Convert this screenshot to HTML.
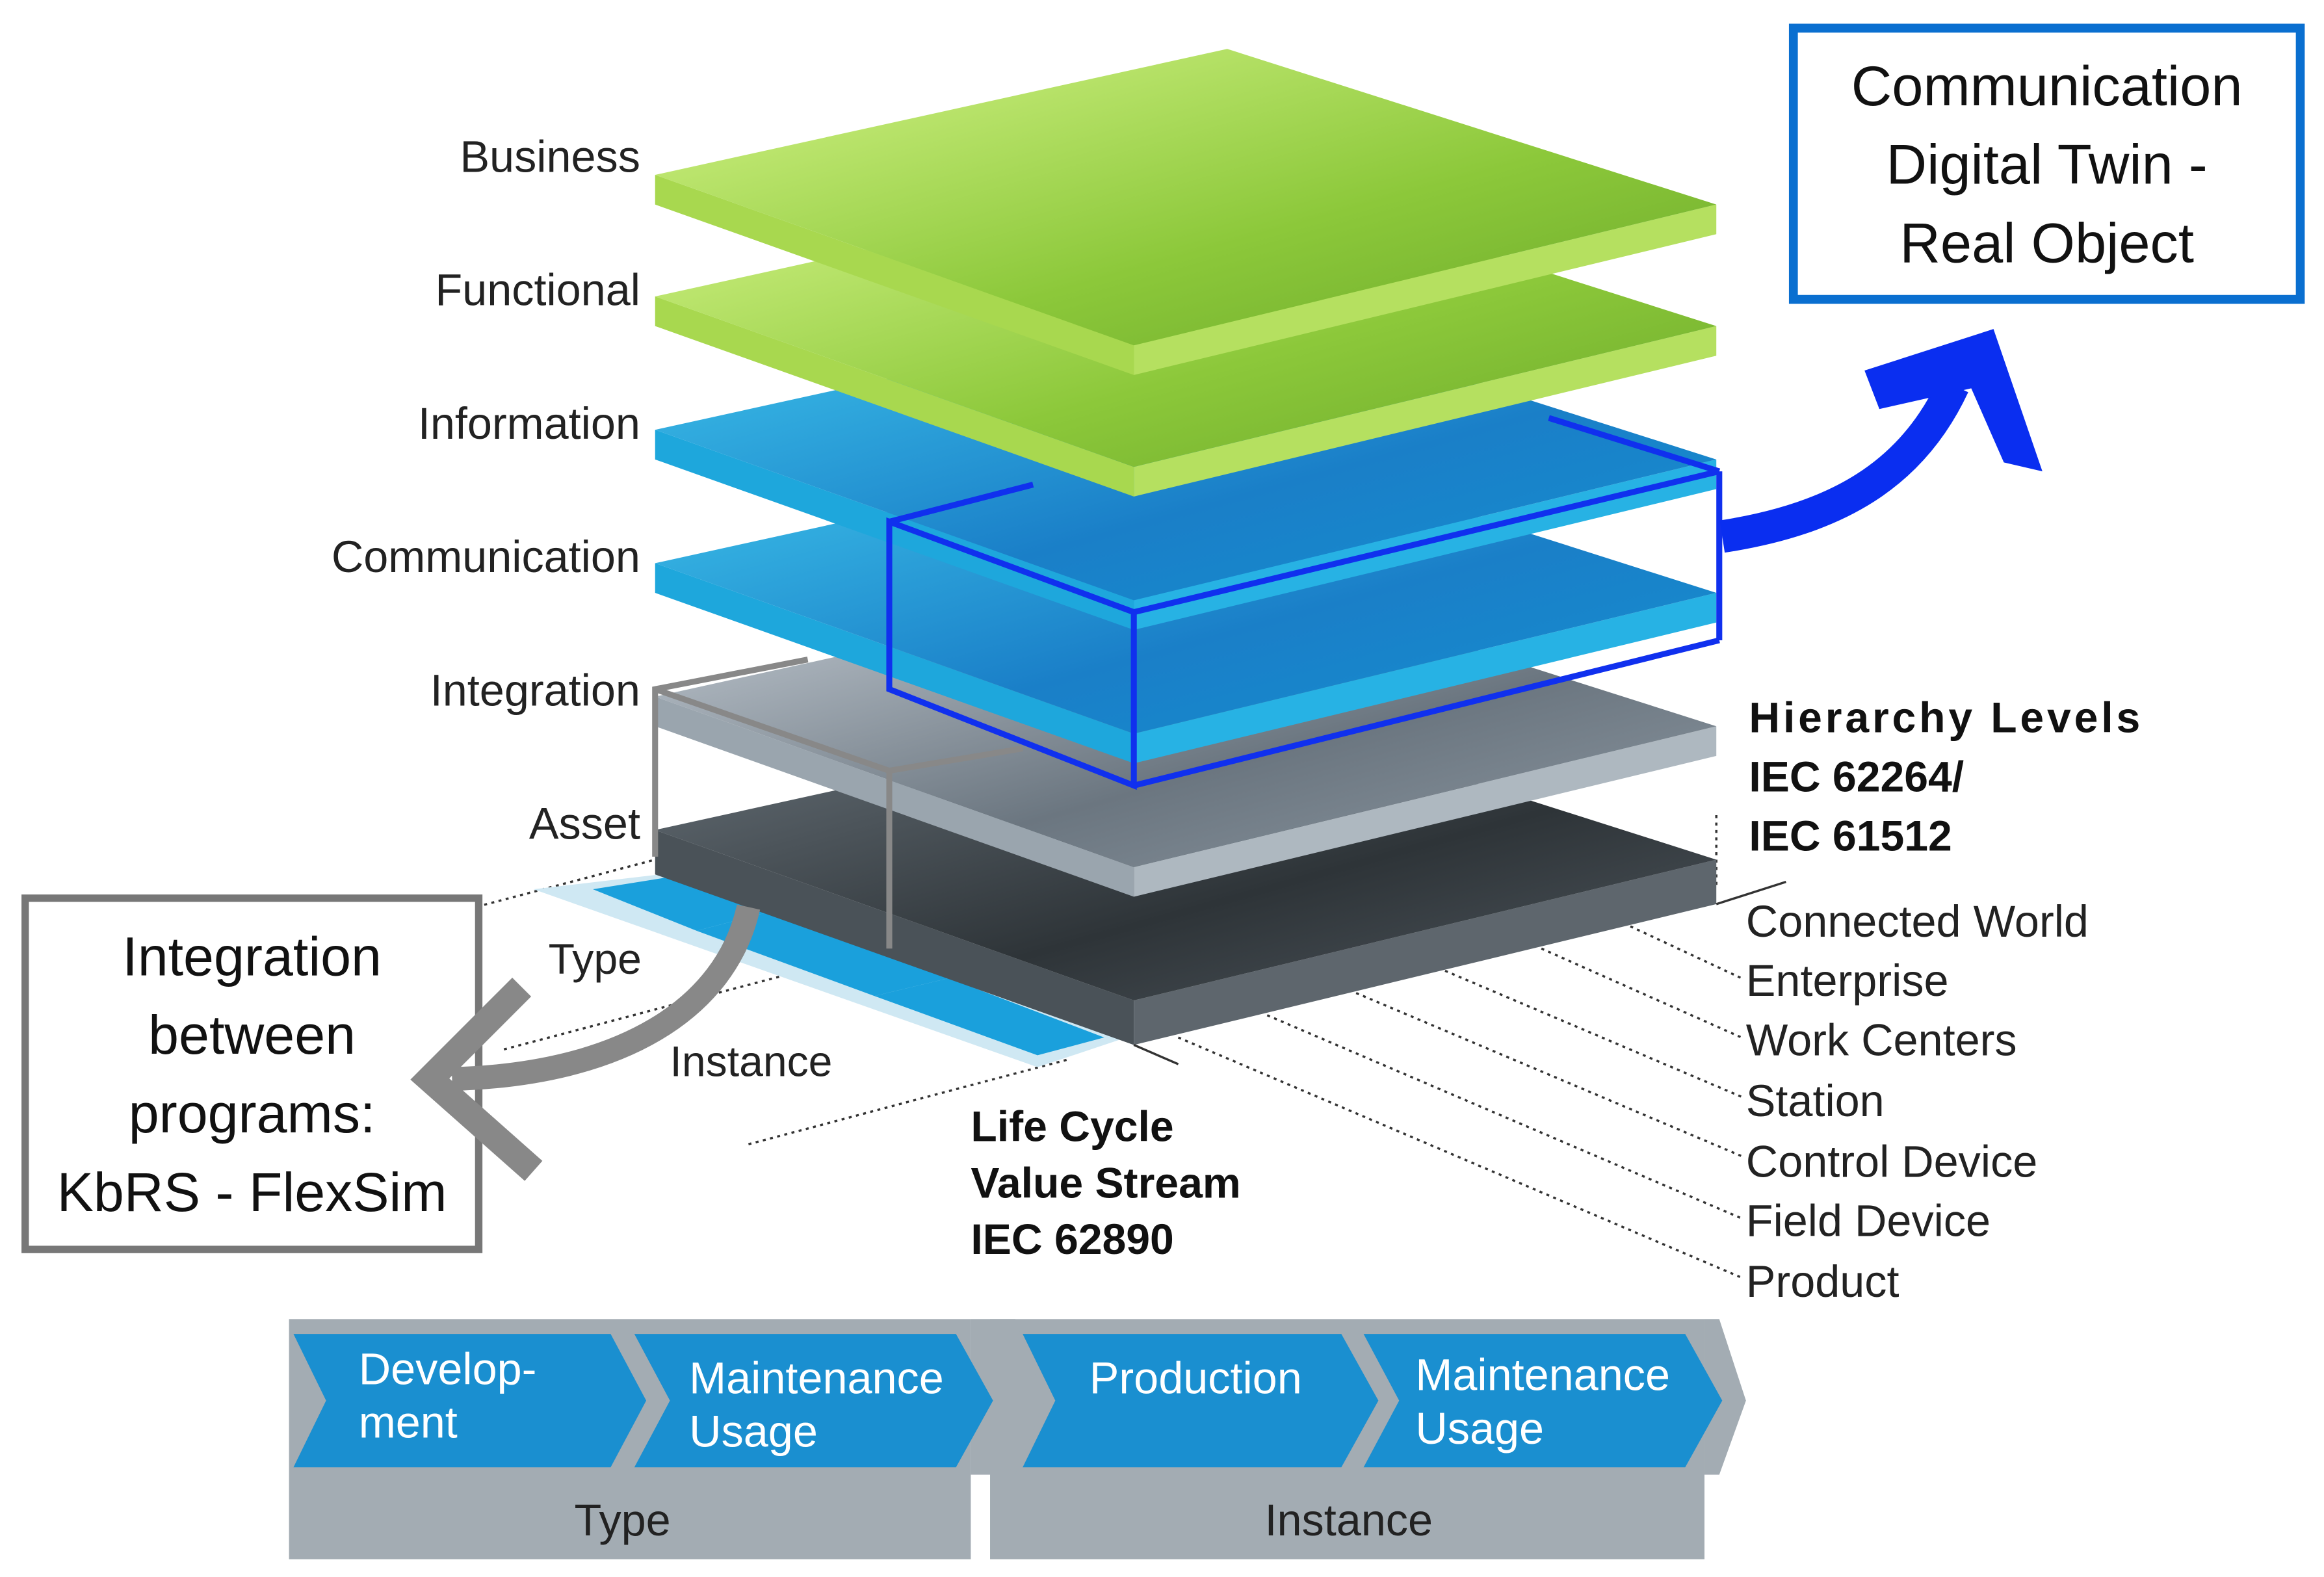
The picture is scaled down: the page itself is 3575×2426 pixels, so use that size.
<!DOCTYPE html>
<html><head><meta charset="utf-8"><style>
html,body{margin:0;padding:0;background:#fff}
svg{display:block}
text{font-family:"Liberation Sans",sans-serif}
</style></head><body>
<svg width="3575" height="2426" viewBox="0 0 1568 1064" preserveAspectRatio="none" xmlns="http://www.w3.org/2000/svg">
<defs>
<linearGradient id="g1" x1="0" y1="0" x2="1" y2="1"><stop offset="0" stop-color="#d6f58a"/><stop offset="0.6" stop-color="#8cc83a"/><stop offset="1" stop-color="#6aa82a"/></linearGradient>
<linearGradient id="b1" x1="0" y1="0" x2="1" y2="1"><stop offset="0" stop-color="#3fc6ec"/><stop offset="0.6" stop-color="#1a7fc8"/><stop offset="1" stop-color="#1490d0"/></linearGradient>
<linearGradient id="s1" x1="0" y1="0" x2="1" y2="1"><stop offset="0" stop-color="#c8d0d8"/><stop offset="0.6" stop-color="#6b7680"/><stop offset="1" stop-color="#8e99a3"/></linearGradient>
<linearGradient id="d1" x1="0" y1="0" x2="1" y2="1"><stop offset="0" stop-color="#6a747c"/><stop offset="0.6" stop-color="#2e3438"/><stop offset="1" stop-color="#50585f"/></linearGradient>
</defs>
<rect width="1568" height="1064" fill="#fff"/>

<g stroke="#333" stroke-width="1.5" stroke-dasharray="2,3" fill="none">
<line x1="230" y1="636" x2="442" y2="580"/>
<line x1="340" y1="708" x2="560" y2="650"/>
<line x1="505" y1="772" x2="720" y2="715"/>
<line x1="1100" y1="625" x2="1175" y2="660"/>
<line x1="1040" y1="640" x2="1175" y2="700"/>
<line x1="975" y1="655" x2="1175" y2="740"/>
<line x1="915" y1="670" x2="1175" y2="780"/>
<line x1="855" y1="685" x2="1175" y2="822"/>
<line x1="795" y1="700" x2="1175" y2="862"/>
<line x1="1158" y1="550" x2="1158" y2="600"/>
</g>
<polygon points="360,600 445,590 760,700 700,720" fill="#cfe8f3"/>
<polygon points="400,600 450,592 520,615 470,628" fill="#1aa0dc"/>
<polygon points="470,628 520,615 640,660 590,672" fill="#1aa0dc"/>
<polygon points="590,672 640,660 745,700 700,712" fill="#1aa0dc"/>

<polygon points="442,560 442,590 765,705 765,675" fill="#4a5258"/>
<polygon points="765,675 1158,580 1158,610 765,705" fill="#5e666d"/>
<polygon points="442,560 828,475 1158,580 765,675" fill="url(#d1)"/>
<polygon points="442,470 442,490 765,605 765,585" fill="#9aa5ae"/>
<polygon points="765,585 1158,490 1158,510 765,605" fill="#aeb8c0"/>
<polygon points="442,470 828,385 1158,490 765,585" fill="url(#s1)"/>
<polygon points="442,380 442,400 765,515 765,495" fill="#1ea7dc"/>
<polygon points="765,495 1158,400 1158,420 765,515" fill="#27b2e4"/>
<polygon points="442,380 828,295 1158,400 765,495" fill="url(#b1)"/>
<polygon points="442,290 442,310 765,425 765,405" fill="#1ea7dc"/>
<polygon points="765,405 1158,310 1158,330 765,425" fill="#27b2e4"/>
<polygon points="442,290 828,205 1158,310 765,405" fill="url(#b1)"/>
<polygon points="442,200 442,220 765,335 765,315" fill="#a8d84f"/>
<polygon points="765,315 1158,220 1158,240 765,335" fill="#b5e060"/>
<polygon points="442,200 828,115 1158,220 765,315" fill="url(#g1)"/>
<polygon points="442,118 442,138 765,253 765,233" fill="#a8d84f"/>
<polygon points="765,233 1158,138 1158,158 765,253" fill="#b5e060"/>
<polygon points="442,118 828,33 1158,138 765,233" fill="url(#g1)"/>

<line x1="765" y1="705" x2="795" y2="718" stroke="#333" stroke-width="1.5"/>
<line x1="1158" y1="610" x2="1205" y2="595" stroke="#333" stroke-width="1.5"/>

<g stroke="#888" stroke-width="4" fill="none">
<polyline points="442,578 442,465 545,445"/>
<line x1="442" y1="465" x2="600" y2="520"/>
<line x1="600" y1="520" x2="690" y2="505"/>
<line x1="600" y1="520" x2="600" y2="640"/>
</g>
<g stroke="#1030ee" stroke-width="4" fill="none">
<polygon points="600,352 765,413 765,530 600,465"/>
<line x1="765" y1="413" x2="1160" y2="318"/>
<line x1="765" y1="530" x2="1160" y2="432"/>
<line x1="1160" y1="318" x2="1160" y2="432"/>
<line x1="600" y1="352" x2="697" y2="327"/>
<line x1="1045" y1="282" x2="1160" y2="318"/>
</g>
<path d="M1162,362 C1240,350 1290,320 1318,260" stroke="#0a2ef0" stroke-width="22" fill="none"/>
<polygon points="1258,250 1345,222 1378,318 1352,312 1330,262 1268,276" fill="#0a2ef0"/>

<g font-size="30" fill="#222" text-anchor="end">
<text x="432" y="116">Business</text>
<text x="432" y="206">Functional</text>
<text x="432" y="296">Information</text>
<text x="432" y="386">Communication</text>
<text x="432" y="476">Integration</text>
<text x="432" y="566">Asset</text>
</g>
<text x="370" y="657" font-size="29" fill="#222">Type</text>
<text x="452" y="726" font-size="29" fill="#222">Instance</text>
<g font-size="29" font-weight="bold" fill="#111">
<text x="655" y="770">Life Cycle</text>
<text x="655" y="808">Value Stream</text>
<text x="655" y="846">IEC 62890</text>
<text x="1180" y="494" textLength="264">Hierarchy Levels</text>
<text x="1180" y="534">IEC 62264/</text>
<text x="1180" y="574">IEC 61512</text>
</g>
<g font-size="30" fill="#222">
<text x="1178" y="632">Connected World</text>
<text x="1178" y="672">Enterprise</text>
<text x="1178" y="712">Work Centers</text>
<text x="1178" y="753">Station</text>
<text x="1178" y="794">Control Device</text>
<text x="1178" y="834">Field Device</text>
<text x="1178" y="875">Product</text>
</g>

<rect x="1210" y="19" width="342" height="183" fill="#fff" stroke="#0a6fd0" stroke-width="6"/>
<g font-size="38" fill="#111" text-anchor="middle">
<text x="1381" y="71">Communication</text>
<text x="1381" y="124">Digital Twin -</text>
<text x="1381" y="177">Real Object</text>
</g>
<rect x="17" y="606" width="306" height="237" fill="#fff" stroke="#777" stroke-width="5"/>
<g font-size="37" fill="#111" text-anchor="middle">
<text x="170" y="658">Integration</text>
<text x="170" y="711">between</text>
<text x="170" y="764">programs:</text>
<text x="170" y="817">KbRS - FlexSim</text>
</g>
<path d="M505,612 C490,680 420,725 305,728" stroke="#888" stroke-width="16" fill="none"/>
<polyline points="352,666 290,728 360,790" stroke="#888" stroke-width="18" fill="none"/>

<rect x="195" y="890" width="460" height="162" fill="#a3acb3"/>
<rect x="668" y="890" width="482" height="162" fill="#a3acb3"/>
<polygon points="655,890 685,890 705,945 685,995 655,995" fill="#a3acb3"/>
<polygon points="1150,890 1160,890 1178,945 1160,995 1150,995" fill="#a3acb3"/>
<g fill="#1a8fd0">
<polygon points="198,900 412,900 436,945 412,990 198,990 220,945"/>
<polygon points="428,900 645,900 670,945 645,990 428,990 452,945"/>
<polygon points="690,900 905,900 930,945 905,990 690,990 712,945"/>
<polygon points="920,900 1137,900 1162,945 1137,990 920,990 944,945"/>
</g>
<g font-size="30" fill="#fff">
<text x="242" y="934">Develop-</text>
<text x="242" y="970">ment</text>
<text x="465" y="940">Maintenance</text>
<text x="465" y="976">Usage</text>
<text x="735" y="940">Production</text>
<text x="955" y="938">Maintenance</text>
<text x="955" y="974">Usage</text>
</g>
<text x="420" y="1036" font-size="30" fill="#222" text-anchor="middle">Type</text>
<text x="910" y="1036" font-size="30" fill="#222" text-anchor="middle">Instance</text>
</svg>
</body></html>
